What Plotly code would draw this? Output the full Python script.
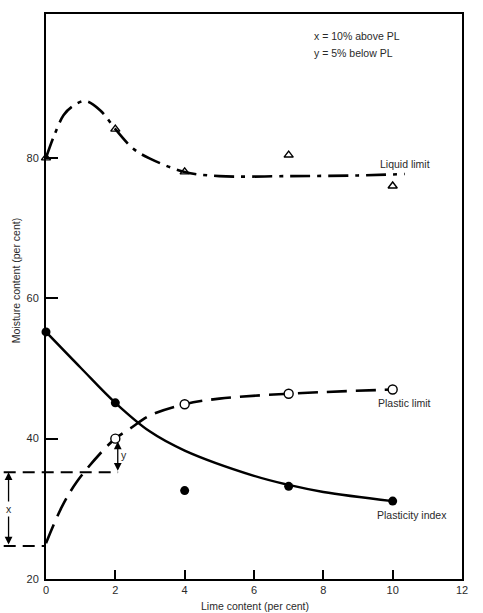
import plotly.graph_objects as go

# ---- data ----
lime = [0, 2, 4, 7, 10]
ll_pts = [80.0, 84.1, 78.0, 80.4, 76.0]          # liquid limit (triangles)
pl_pts = [None, 40.0, 44.9, 46.4, 47.0]          # plastic limit (open circles)
pi_pts = [55.2, 45.1, 32.6, 33.2, 31.1]          # plasticity index (filled circles)

# fitted curves as drawn in the reference
ll_cx = [0, 0.22, 0.51, 0.75, 1.13, 1.56, 2, 2.52, 3, 4, 5, 7, 9, 10.35]
ll_cy = [80.0, 83.0, 86.1, 87.3, 88.1, 86.8, 84.1, 81.3, 79.9, 78.0, 77.4, 77.4, 77.5, 77.7]
pl_cx = [0, 0.46, 0.89, 1.66, 2, 2.43, 3, 4, 5, 7, 10]
pl_cy = [25.1, 30.3, 33.85, 38.4, 40.0, 41.45, 43.3, 44.9, 45.7, 46.4, 47.0]
pi_cx = [0, 1, 2, 3, 4, 6, 7, 8, 10]
pi_cy = [55.2, 50.1, 45.1, 41.0, 38.3, 34.7, 33.4, 32.4, 31.1]

x_ticks = [0, 2, 4, 6, 8, 10, 12]
y_ticks = [20, 40, 60, 80]

pl_zero = 24.7      # PL at 0 % lime (lower dashed line)
x_level = 35.2      # 10 % above PL
y_top = 40.0        # PL at 2 % lime

FONT = "Arial, Liberation Sans, sans-serif"
TXT = "#2a2a2a"
FS = 10.5

X0, X1 = 0, 12
Y0, Y1 = 20, 100.5

def xpaper(v):
    return (v - X0) / (X1 - X0)

fig = go.Figure()

fig.add_trace(go.Scatter(x=ll_cx, y=ll_cy, mode="lines", line_shape="spline",
                         line=dict(color="black", width=2.6, dash="20px,7px,4px,7px"),
                         hoverinfo="skip"))
fig.add_trace(go.Scatter(x=pl_cx, y=pl_cy, mode="lines", line_shape="spline",
                         line=dict(color="black", width=2.6, dash="20px,9px"),
                         hoverinfo="skip"))
fig.add_trace(go.Scatter(x=pi_cx, y=pi_cy, mode="lines", line_shape="spline",
                         line=dict(color="black", width=2.4),
                         hoverinfo="skip"))

fig.add_trace(go.Scatter(x=lime, y=ll_pts, mode="markers", cliponaxis=False,
                         marker=dict(symbol="triangle-up-open", size=8,
                                     color="black", line=dict(width=1.4))))
fig.add_trace(go.Scatter(x=lime, y=pl_pts, mode="markers", cliponaxis=False,
                         marker=dict(symbol="circle", size=9, color="white",
                                     line=dict(color="black", width=1.4))))
fig.add_trace(go.Scatter(x=lime, y=pi_pts, mode="markers", cliponaxis=False,
                         marker=dict(symbol="circle", size=9, color="black")))

shapes = [
    dict(type="line", xref="paper", yref="y", x0=xpaper(-1.22), x1=xpaper(2.08),
         y0=x_level, y1=x_level, line=dict(color="black", width=2, dash="12px,7px")),
    dict(type="line", xref="paper", yref="y", x0=xpaper(-1.22), x1=xpaper(0),
         y0=pl_zero, y1=pl_zero, line=dict(color="black", width=2, dash="12px,7px")),
]

annotations = [
    # x arrow (double headed)
    dict(xref="paper", yref="y", x=xpaper(-1.08), y=x_level, ax=0, ay=pl_zero,
         axref="pixel", ayref="y", text="", showarrow=True, arrowhead=2,
         arrowside="end+start", arrowsize=1.2, arrowwidth=1.3, arrowcolor="black"),
    dict(xref="paper", yref="y", x=xpaper(-1.08), y=(x_level + pl_zero) / 2,
         xanchor="center", text="x", showarrow=False,
         font=dict(size=FS, color=TXT, family=FONT), bgcolor="white"),
    # y arrow
    dict(xref="x", yref="y", x=2.07, y=y_top - 0.4, ax=0, ay=x_level,
         axref="pixel", ayref="y", text="", showarrow=True, arrowhead=2,
         arrowside="end+start", arrowsize=1.2, arrowwidth=1.3, arrowcolor="black"),
    dict(xref="x", yref="y", x=2.12, y=37.7, text="y", showarrow=False,
         xanchor="left", font=dict(size=FS, color=TXT, family=FONT)),
    # legend note
    dict(xref="x", yref="y", x=7.67, y=97.4, text="x = 10% above PL", showarrow=False,
         xanchor="left", font=dict(size=FS, color=TXT, family=FONT)),
    dict(xref="x", yref="y", x=7.67, y=94.9, text="y = 5% below PL", showarrow=False,
         xanchor="left", font=dict(size=FS, color=TXT, family=FONT)),
    # curve labels
    dict(xref="x", yref="y", x=9.59, y=79.2, text="Liquid limit", showarrow=False,
         xanchor="left", font=dict(size=FS, color=TXT, family=FONT)),
    dict(xref="x", yref="y", x=9.53, y=45.1, text="Plastic limit", showarrow=False,
         xanchor="left", font=dict(size=FS, color=TXT, family=FONT)),
    dict(xref="x", yref="y", x=9.5, y=29.1, text="Plasticity index", showarrow=False,
         xanchor="left", font=dict(size=FS, color=TXT, family=FONT)),
    # axis titles
    dict(xref="paper", yref="paper", x=xpaper(6.04), y=-0.048, xanchor="center",
         yanchor="middle", text="Lime content (per cent)", showarrow=False,
         font=dict(size=FS, color=TXT, family=FONT)),
    dict(xref="paper", yref="paper", x=-0.072, y=0.527, xanchor="center",
         yanchor="middle", textangle=-90,
         text="Moisture content (per cent)", showarrow=False,
         font=dict(size=FS, color=TXT, family=FONT)),
]

fig.update_layout(
    width=483, height=613,
    margin=dict(l=46, r=21, t=14, b=34),
    paper_bgcolor="white", plot_bgcolor="white",
    showlegend=False,
    shapes=shapes, annotations=annotations,
    font=dict(family=FONT, color=TXT, size=11),
    xaxis=dict(range=[X0, X1], tickvals=x_ticks, ticks="inside", ticklen=9,
               tickwidth=2, tickcolor="black", showgrid=False, zeroline=False,
               showline=True, linecolor="black", linewidth=2, mirror=True,
               tickfont=dict(size=11, color=TXT)),
    yaxis=dict(range=[Y0, Y1], tickvals=y_ticks, ticks="inside", ticklen=12,
               tickwidth=2, tickcolor="black", showgrid=False, zeroline=False,
               showline=True, linecolor="black", linewidth=2, mirror=True,
               ticklabelstandoff=3, tickfont=dict(size=11, color=TXT)),
)

fig.write_html("out.html")
